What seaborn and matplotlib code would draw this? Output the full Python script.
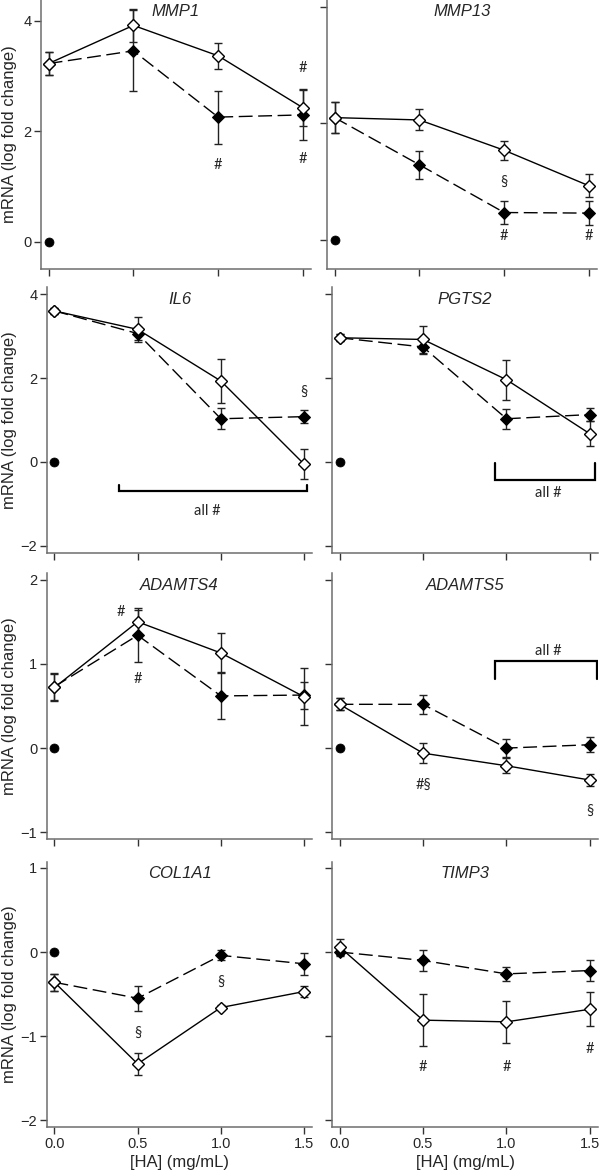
import numpy as np
import pandas as pd
import seaborn as sns
import matplotlib.pyplot as plt

ha_dose = [0.0, 0.5, 1.0, 1.5]
genes = ["MMP1", "MMP13", "IL6", "PGTS2", "ADAMTS4", "ADAMTS5", "COL1A1", "TIMP3"]

# open diamonds (solid line)
open_mean = [
    [3.23, 3.92, 3.37, 2.43],
    [2.10, 2.06, 1.54, 0.93],
    [3.60, 3.16, 1.93, -0.05],
    [2.96, 2.92, 1.96, 0.67],
    [0.72, 1.50, 1.13, 0.61],
    [0.52, -0.06, -0.21, -0.38],
    [-0.36, -1.33, -0.66, -0.47],
    [0.06, -0.81, -0.83, -0.68],
]
open_err = [
    [0.21, 0.30, 0.24, 0.33],
    [0.26, 0.18, 0.16, 0.20],
    [0.08, 0.30, 0.53, 0.35],
    [0.08, 0.33, 0.48, 0.30],
    [0.16, 0.14, 0.24, 0.34],
    [0.07, 0.12, 0.09, 0.07],
    [0.10, 0.13, 0.03, 0.07],
    [0.10, 0.31, 0.25, 0.20],
]

# filled diamonds (dashed line)
filled_mean = [
    [3.23, 3.46, 2.26, 2.30],
    [2.10, 1.29, 0.47, 0.46],
    [3.60, 3.06, 1.03, 1.08],
    [2.96, 2.74, 1.03, 1.13],
    [0.73, 1.34, 0.62, 0.63],
    [0.52, 0.52, 0.00, 0.04],
    [-0.36, -0.55, -0.04, -0.14],
    [0.00, -0.10, -0.26, -0.22],
]
filled_err = [
    [0.21, 0.73, 0.48, 0.45],
    [0.26, 0.24, 0.19, 0.20],
    [0.08, 0.16, 0.25, 0.15],
    [0.08, 0.16, 0.24, 0.16],
    [0.16, 0.32, 0.28, 0.16],
    [0.07, 0.11, 0.11, 0.09],
    [0.10, 0.15, 0.06, 0.13],
    [0.05, 0.12, 0.08, 0.12],
]

control_value = 0.0

# significance marks: (panel, x, y, text)
marks = [
    (0, 1.0, 1.39, "#"), (0, 1.5, 3.15, "#"), (0, 1.5, 1.50, "#"),
    (1, 1.0, 1.00, "§"), (1, 1.0, 0.06, "#"), (1, 1.5, 0.06, "#"),
    (2, 1.5, 1.66, "§"), (2, 0.92, -1.16, "all #"),
    (3, 1.25, -0.75, "all #"),
    (4, 0.40, 1.62, "#"), (4, 0.50, 0.82, "#"),
    (5, 0.50, -0.44, "#§"), (5, 1.50, -0.74, "§"), (5, 1.25, 1.15, "all #"),
    (6, 0.50, -0.96, "§"), (6, 1.00, -0.36, "§"),
    (7, 0.50, -1.37, "#"), (7, 1.00, -1.37, "#"), (7, 1.50, -1.15, "#"),
]

# brackets: (panel, x start, x end, bar y, arm end y)
brackets = [
    (2, 0.39, 1.516, -0.70, -0.55),
    (3, 0.93, 1.53, -0.42, -0.02),
    (5, 0.93, 1.54, 1.03, 0.82),
]

y_limits = [(-0.49, 4.38), (-0.50, 4.12), (-2.17, 4.17), (-2.17, 4.17),
            (-1.08, 2.08), (-1.08, 2.08), (-2.08, 1.07), (-2.08, 1.07)]
y_ticks = [[0, 2, 4], [0, 2, 4], [-2, 0, 2, 4], [-2, 0, 2, 4],
           [-1, 0, 1, 2], [-1, 0, 1, 2], [-2, -1, 0, 1], [-2, -1, 0, 1]]

sns.set_style("ticks")
plt.rcParams["font.family"] = ["Liberation Sans", "DejaVu Sans"]

W, H = 600, 1170
fig = plt.figure(figsize=(6, 11.7), dpi=100)

# pixel boxes (left, right, top, bottom)
boxes = [
    (41, 311, 0, 269), (327, 597, 0, 269),
    (47, 312, 287, 553), (332, 598, 287, 553),
    (47, 312, 573, 839), (332, 598, 573, 839),
    (47, 312, 862, 1127), (332, 598, 862, 1127),
]

spine_color = "#6e6e6e"

for i, gene in enumerate(genes):
    l, r, t, b = boxes[i]
    ax = fig.add_axes([l / W, 1 - b / H, (r - l) / W, (b - t) / H])

    df_open = pd.DataFrame({"ha": ha_dose, "val": open_mean[i]})
    df_fill = pd.DataFrame({"ha": ha_dose, "val": filled_mean[i]})

    sns.scatterplot(x=[0.0], y=[control_value], color="black", s=42,
                    edgecolor="black", ax=ax, zorder=2)

    ax.errorbar(ha_dose, filled_mean[i], yerr=filled_err[i], fmt="none",
                ecolor="#222222", elinewidth=1, capsize=3, capthick=1, zorder=3)
    ax.errorbar(ha_dose, open_mean[i], yerr=open_err[i], fmt="none",
                ecolor="#222222", elinewidth=1, capsize=3, capthick=1, zorder=3)

    sns.lineplot(data=df_fill, x="ha", y="val", ax=ax, color="black", lw=1,
                 linestyle=(0, (10, 4)), marker="D", markersize=6.3,
                 markerfacecolor="black", markeredgecolor="black", zorder=4)
    sns.lineplot(data=df_open, x="ha", y="val", ax=ax, color="black", lw=1,
                 marker="D", markersize=6.3, markerfacecolor="white",
                 markeredgecolor="black", markeredgewidth=1, zorder=5)

    for p, x, y, txt in marks:
        if p == i:
            ax.text(x, y, txt, ha="center", va="center", fontsize=10.5,
                    family=["Lato", "DejaVu Sans"], zorder=6)

    for p, x0, x1, yb, ya in brackets:
        if p == i:
            ax.plot([x0, x0, x1, x1], [ya, yb, yb, ya], color="black",
                    lw=1.6, solid_joinstyle="miter", zorder=6)

    ax.text(0.5, 1 - 12 / (b - t), gene, transform=ax.transAxes,
            ha="center", va="center", fontsize=12, style="italic")

    ax.set_xlim(-0.045, 1.548)
    ax.set_ylim(*y_limits[i])
    ax.set_xticks(ha_dose)
    ax.set_yticks(y_ticks[i])

    for s in ["top", "right"]:
        ax.spines[s].set_visible(False)
    for s in ["left", "bottom"]:
        ax.spines[s].set_color(spine_color)
        ax.spines[s].set_linewidth(1.1)
    ax.tick_params(direction="out", length=5, width=1, color="#333333",
                   labelsize=10.5, pad=2)

    ax.set_xlabel("")
    ax.set_ylabel("")
    if i % 2 == 1:
        ax.set_yticklabels([])
    else:
        ax.set_ylabel("mRNA (log fold change)", fontsize=12)
        ax.yaxis.set_label_coords(-(l - 17) / (r - l), 0.5)

    if i >= 6:
        ax.set_xticklabels([f"{v:.1f}" for v in ha_dose])
        ax.set_xlabel("[HA] (mg/mL)", fontsize=12, labelpad=3)
    else:
        ax.set_xticklabels([])

fig.savefig("out.png", dpi=100)
plt.close()
